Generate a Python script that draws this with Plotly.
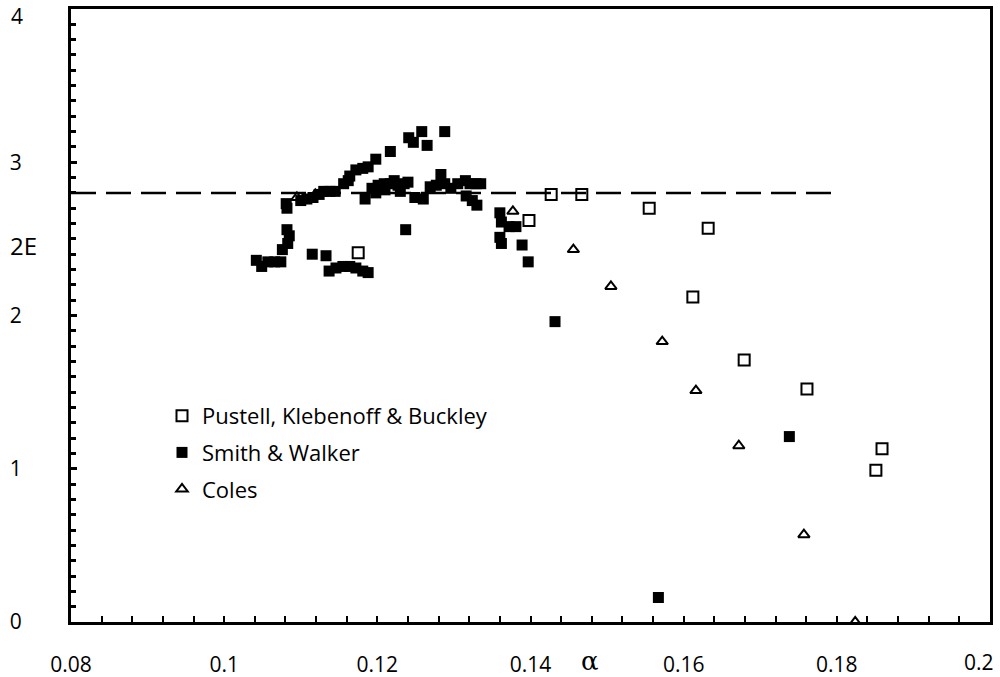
import plotly.graph_objects as go

# Pustell, Klebenoff & Buckley (open squares)
pkb_x = [0.1175, 0.1427, 0.1467, 0.1398, 0.1555, 0.1632, 0.1612, 0.1679, 0.1761, 0.1859, 0.1851]
pkb_y = [2.41, 2.79, 2.79, 2.62, 2.70, 2.57, 2.12, 1.71, 1.52, 1.13, 0.99]

# Smith & Walker (solid squares)
sw_x = [0.1042, 0.1049, 0.1057, 0.1066, 0.1074, 0.1076, 0.1083, 0.1082, 0.1085,
        0.1115, 0.1133, 0.1137, 0.1146, 0.1155, 0.1164, 0.1172, 0.1181, 0.1188,
        0.1081, 0.1082, 0.1100, 0.1108, 0.1116, 0.1124, 0.1130, 0.1138, 0.1145,
        0.1156, 0.1162, 0.1164, 0.1172, 0.1181, 0.1188, 0.1198, 0.1217, 0.1241,
        0.1247, 0.1258, 0.1265, 0.1288,
        0.1184, 0.1193, 0.1201, 0.1209, 0.1217, 0.1222, 0.1227, 0.1235, 0.1240,
        0.1249, 0.1260, 0.1269, 0.1277, 0.1283, 0.1288, 0.1296, 0.1305, 0.1315,
        0.1321, 0.1329, 0.1316, 0.1324, 0.1330, 0.1335, 0.1210, 0.1230, 0.1198,
        0.1360, 0.1362, 0.1360, 0.1362, 0.1372, 0.1381, 0.1389, 0.1397, 0.1237,
        0.1432, 0.1567, 0.1738]
sw_y = [2.36, 2.32, 2.35, 2.35, 2.35, 2.43, 2.47, 2.56, 2.52,
        2.40, 2.39, 2.29, 2.31, 2.32, 2.32, 2.31, 2.29, 2.28,
        2.73, 2.70, 2.75, 2.76, 2.77, 2.79, 2.81, 2.81, 2.81,
        2.86, 2.88, 2.91, 2.95, 2.96, 2.97, 3.02, 3.07, 3.16,
        3.13, 3.20, 3.11, 3.20,
        2.76, 2.83, 2.85, 2.86, 2.86, 2.88, 2.85, 2.86, 2.87,
        2.77, 2.76, 2.84, 2.85, 2.92, 2.86, 2.83, 2.86, 2.88,
        2.86, 2.86, 2.78, 2.75, 2.72, 2.86, 2.82, 2.81, 2.80,
        2.67, 2.61, 2.51, 2.47, 2.58, 2.58, 2.46, 2.35, 2.56,
        1.96, 0.16, 1.21]

# Coles (open triangles)
coles_x = [0.1095, 0.1119, 0.1377, 0.1456, 0.1505, 0.1572, 0.1616, 0.1672, 0.1757, 0.1824]
coles_y = [2.77, 2.79, 2.68, 2.43, 2.19, 1.83, 1.51, 1.15, 0.57, 0.0]

# Reference dashed line
ref_x = [0.08, 0.18]
ref_y = [2.8, 2.8]

x_ticks = [0.08, 0.1, 0.12, 0.14, 0.16, 0.18, 0.2]
x_tick_labels = ["0.08", "0.1", "0.12", "0.14", "0.16", "0.18", "0.2"]
y_ticks = [0, 1, 2, 3, 4]
y_tick_labels = ["0", "1", "2", "3", "4"]

FONT = "Open Sans"
W, H = 1000, 677
L, R, T, B = 71, 10, 9, 55
PW, PH = W - L - R, H - T - B


def px_to_paper(px, py):
    return (px - L) / PW, (H - B - py) / PH


fig = go.Figure()

fig.add_trace(go.Scatter(
    x=ref_x, y=ref_y, mode="lines", showlegend=False, hoverinfo="skip",
    line=dict(color="black", width=2.5, dash="25px,10px")))

fig.add_trace(go.Scatter(
    x=sw_x, y=sw_y, mode="markers", name="Smith & Walker", legendgroup="b",
    legendrank=2,
    marker=dict(symbol="square", size=11, color="black", line=dict(width=0))))

fig.add_trace(go.Scatter(
    x=pkb_x, y=pkb_y, mode="markers", name="Pustell, Klebenoff & Buckley",
    legendgroup="a", legendrank=1,
    marker=dict(symbol="square-open", size=11, color="black", line=dict(width=2))))

fig.add_trace(go.Scatter(
    x=coles_x, y=coles_y, mode="markers", name="Coles", legendgroup="c",
    legendrank=3,
    marker=dict(symbol="triangle-up-open", size=10, color="black", line=dict(width=2))))

ax2e = px_to_paper(23, 246)
axal = px_to_paper(590, 661)
lab_last = px_to_paper(979, 662)
lab_top = px_to_paper(17, 0)
leg = px_to_paper(162, 395)

# edge tick labels placed as annotations so they stay inside the page (as in reference)
x_axis_text = list(x_tick_labels[:-1]) + [""]
y_axis_text = list(y_tick_labels[:-1]) + [""]

fig.update_layout(
    width=W, height=H,
    margin=dict(l=L, r=R, t=T, b=B, autoexpand=False),
    paper_bgcolor="white", plot_bgcolor="white",
    font=dict(family=FONT, size=21, color="black"),
    legend=dict(x=leg[0], y=leg[1], xanchor="left", yanchor="top",
                bgcolor="rgba(0,0,0,0)", tracegroupgap=5,
                font=dict(family=FONT, size=22, color="black")),
    annotations=[
        dict(text="2E", x=ax2e[0], y=ax2e[1], xref="paper", yref="paper",
             xanchor="center", yanchor="middle",
             showarrow=False, font=dict(family=FONT, size=24, color="black")),
        dict(text="α", x=axal[0], y=axal[1], xref="paper", yref="paper",
             xanchor="center", yanchor="middle",
             showarrow=False, font=dict(family="DejaVu Serif", size=26, color="black")),
        dict(text=x_tick_labels[-1], x=lab_last[0], y=lab_last[1], xref="paper", yref="paper",
             xanchor="center", yanchor="middle",
             showarrow=False, font=dict(family=FONT, size=21, color="black")),
        dict(text=y_tick_labels[-1], x=lab_top[0], y=lab_top[1], xref="paper", yref="paper",
             xanchor="center", yanchor="top",
             showarrow=False, font=dict(family=FONT, size=21, color="black")),
    ],
)

fig.update_xaxes(
    range=[0.08, 0.2], tickvals=x_ticks, ticktext=x_axis_text,
    showgrid=False, zeroline=False, automargin=False,
    showline=True, linecolor="black", linewidth=3, mirror=True,
    ticks="inside", ticklen=6, tickwidth=2, tickcolor="black",
    ticklabelstandoff=22, ticklabeloverflow="allow",
    minor=dict(dtick=0.004, tick0=0.08, ticks="inside", ticklen=6, tickwidth=2, tickcolor="black"),
    tickfont=dict(family=FONT, size=21, color="black"),
)
fig.update_yaxes(
    range=[0, 4], tickvals=y_ticks, ticktext=y_axis_text,
    showgrid=False, zeroline=False, automargin=False,
    showline=True, linecolor="black", linewidth=3, mirror=True,
    ticks="inside", ticklen=6, tickwidth=3, tickcolor="black",
    ticklabelstandoff=42, ticklabeloverflow="allow",
    minor=dict(dtick=0.1, tick0=0, ticks="inside", ticklen=5, tickwidth=3, tickcolor="black"),
    tickfont=dict(family=FONT, size=21, color="black"),
)

fig.write_html("out.html", config={"displayModeBar": False},
               post_script="document.body.style.margin='0';document.body.style.overflow='hidden';")
